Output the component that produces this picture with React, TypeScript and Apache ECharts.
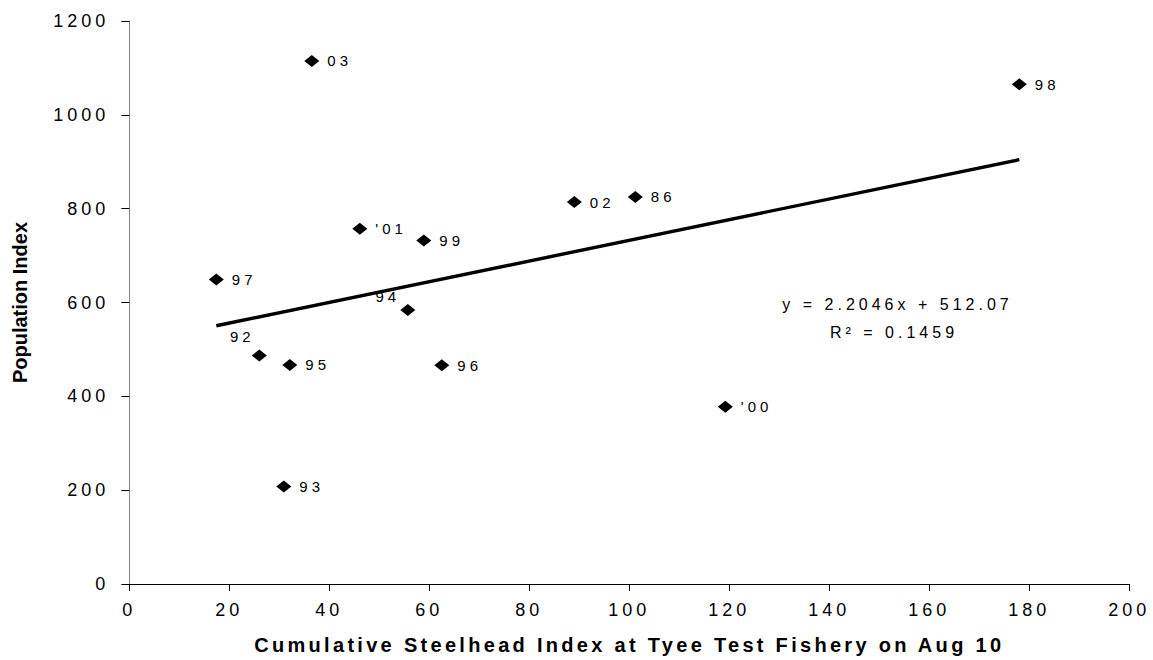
import React, { useEffect, useRef } from "react";
import * as echarts from "echarts";

// Observations: cumulative steelhead index (x) vs population index (y), labelled by year
const years = ["97", "92", "95", "93", "03", "'01", "94", "99", "96", "02", "86", "'00", "98"];
const steelheadIndex = [17.4, 26.0, 32.1, 30.9, 36.5, 46.1, 55.7, 58.9, 62.5, 89.0, 101.2, 119.2, 178.0];
const populationIndex = [649, 487, 467, 208, 1115, 757, 584, 732, 466, 814, 825, 378, 1065];

// Linear fit shown on the chart
const slope = 2.2046;
const intercept = 512.07;
const rSquared = 0.1459;

const xTicks = { min: 0, max: 200, interval: 20 };
const yTicks = { min: 0, max: 1200, interval: 200 };

const xTitle = "Cumulative Steelhead Index at Tyee Test Fishery on Aug 10";
const yTitle = "Population Index";

const FONT = "'Liberation Sans', Arial, Helvetica, sans-serif";

// Labels that sit above-left of their marker instead of to the right
const labelOffsets: Record<string, number[]> = {
  "92": [-17, -19],
  "94": [-20, -14],
};

// Spread the characters of the SVG texts a little, like the wide-tracked labels of the chart
function applyTracking(root: HTMLElement) {
  root.querySelectorAll("text").forEach((t) => {
    const s = t.textContent || "";
    let spacing = "4px";
    if (s === yTitle) spacing = "0px";
    else if (s === xTitle) spacing = "3.3px";
    t.setAttribute("letter-spacing", spacing);
  });
}

export default function App() {
  const ref = useRef<HTMLDivElement>(null);

  useEffect(() => {
    if (!ref.current) return;
    const el = ref.current;
    const chart = echarts.init(el, null, { renderer: "svg" });

    const points = years.map((yr, i) => ({
      value: [steelheadIndex[i], populationIndex[i]],
      name: yr,
      label: labelOffsets[yr] ? { position: "inside", offset: labelOffsets[yr] } : undefined,
    }));

    const xMin = Math.min(...steelheadIndex);
    const xMax = Math.max(...steelheadIndex);
    const trend = [
      [xMin, slope * xMin + intercept],
      [xMax, slope * xMax + intercept],
    ];

    chart.setOption({
      animation: false,
      backgroundColor: "#ffffff",
      textStyle: { fontFamily: FONT },
      grid: { left: 129.3, top: 21, right: 23.7, bottom: 74.3, containLabel: false },
      xAxis: {
        type: "value",
        min: xTicks.min,
        max: xTicks.max,
        interval: xTicks.interval,
        name: xTitle,
        nameLocation: "middle",
        nameGap: 51,
        nameTextStyle: { fontFamily: FONT, fontSize: 20, fontWeight: "bold", color: "#000" },
        axisLine: { lineStyle: { color: "#000", width: 1 } },
        axisTick: { show: true, inside: false, length: 7, lineStyle: { color: "#000" } },
        axisLabel: { fontFamily: FONT, fontSize: 18, color: "#000", margin: 17 },
        splitLine: { show: false },
      },
      yAxis: {
        type: "value",
        min: yTicks.min,
        max: yTicks.max,
        interval: yTicks.interval,
        name: yTitle,
        nameLocation: "middle",
        nameGap: 99,
        nameRotate: 90,
        nameTextStyle: { fontFamily: FONT, fontSize: 20, fontWeight: "bold", color: "#000" },
        axisLine: { show: true, lineStyle: { color: "#858585", width: 1 } },
        axisTick: { show: true, inside: false, length: 8, lineStyle: { color: "#000" } },
        axisLabel: {
          fontFamily: FONT,
          fontSize: 18,
          color: "#000",
          margin: 20,
          formatter: (v: number) => String(v),
        },
        splitLine: { show: false },
      },
      series: [
        {
          type: "line",
          data: trend,
          showSymbol: false,
          symbol: "none",
          lineStyle: { color: "#000", width: 3.4 },
          silent: true,
          z: 1,
        },
        {
          type: "scatter",
          data: points,
          symbol: "diamond",
          symbolSize: [15, 12],
          itemStyle: { color: "#000", opacity: 1 },
          label: {
            show: true,
            position: "right",
            distance: 8,
            formatter: (p: any) => p.name,
            fontFamily: FONT,
            fontSize: 15,
            color: "#000",
          },
          z: 3,
        },
      ],
      graphic: [
        {
          type: "text",
          x: 897.5,
          y: 304,
          style: {
            text: `y = ${slope}x + ${intercept}`,
            font: `16px ${FONT}`,
            fill: "#000",
            align: "center",
            verticalAlign: "middle",
          },
        },
        {
          type: "text",
          x: 894,
          y: 332,
          style: {
            text: `R\u00B2 = ${rSquared}`,
            font: `16px ${FONT}`,
            fill: "#000",
            align: "center",
            verticalAlign: "middle",
          },
        },
      ],
    });

    applyTracking(el);
    const onRendered = () => applyTracking(el);
    chart.on("rendered", onRendered);

    return () => {
      chart.off("rendered", onRendered);
      chart.dispose();
    };
  }, []);

  return (
    <div
      ref={ref}
      style={{ position: "absolute", left: 0, top: 0, width: 1153, height: 660 }}
    />
  );
}
